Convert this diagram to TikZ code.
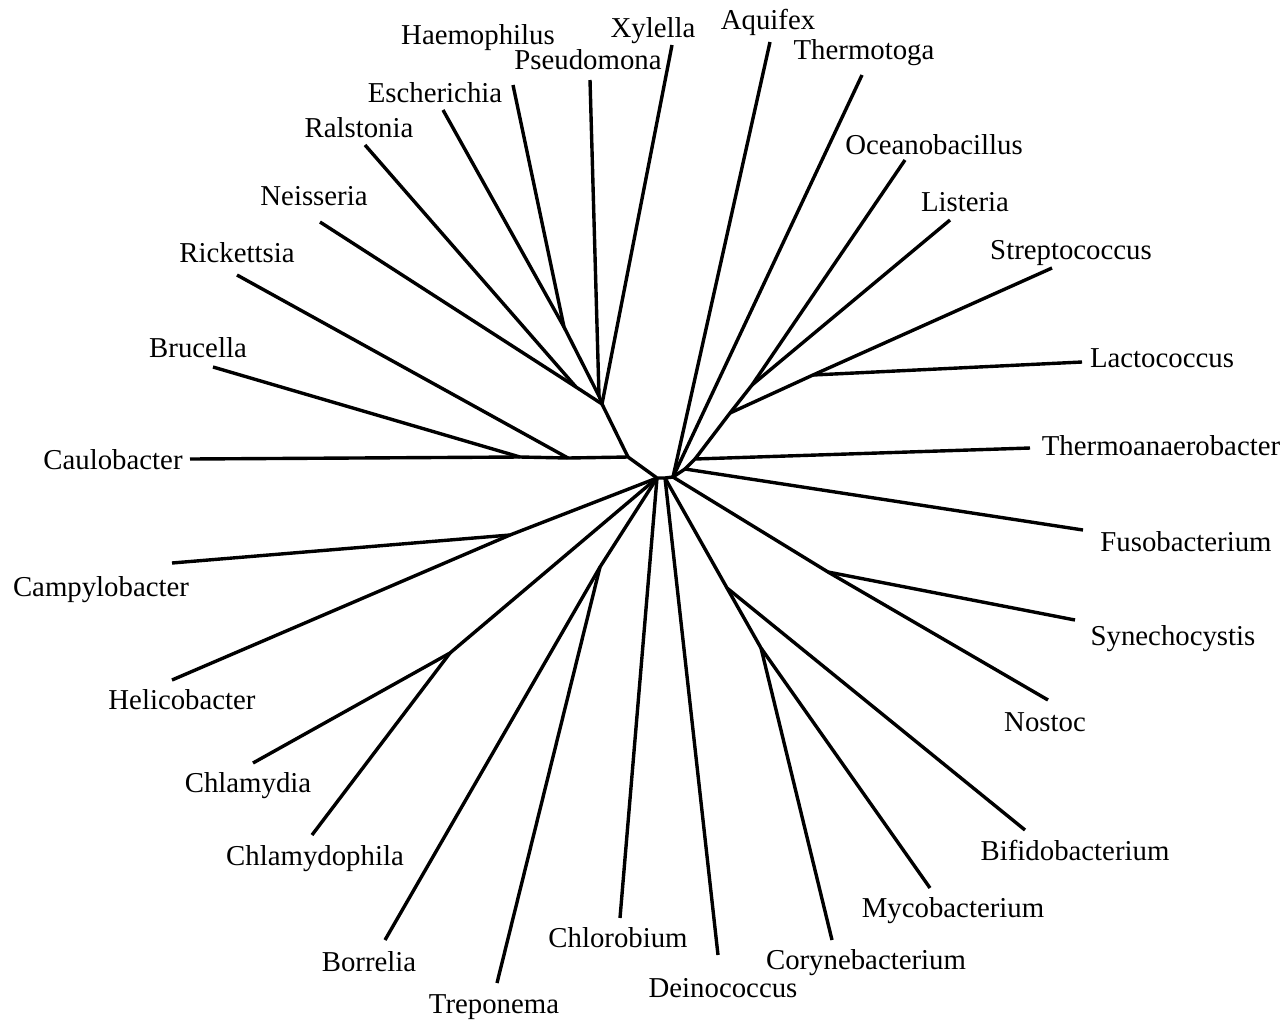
\documentclass[tikz,border=0pt]{standalone}
\usepackage{fontspec}
\setmainfont{Liberation Serif}
\begin{document}
\begin{tikzpicture}[x=1pt,y=-1pt,
  br/.style={line width=3.4pt, line join=round},
  lbl/.style={anchor=base, inner sep=0pt, font=\fontsize{28.8}{34}\selectfont}]
\useasboundingbox (0,0) rectangle (1284,1021);
% internal nodes
\coordinate (A) at (628,457);
\coordinate (B) at (657,478);
\coordinate (M) at (665,478);
\coordinate (C) at (673,477);
\coordinate (P) at (602,404);
\coordinate (Q) at (599,396);
\coordinate (HE) at (564,327);
\coordinate (RN) at (576,387);
\coordinate (R) at (568,458);
\coordinate (BC) at (520,457);
\coordinate (HC) at (510,535);
\coordinate (CC) at (450,653);
\coordinate (BT) at (600,567);
\coordinate (AC1) at (727,588);
\coordinate (AC2) at (761,648);
\coordinate (NS) at (828,572);
\coordinate (N1) at (685,469);
\coordinate (T) at (695,459);
\coordinate (F1) at (730,413);
\coordinate (F2) at (752,385);
\coordinate (S) at (813,375);
% leaf ends
\coordinate (lHae) at (513,85);
\coordinate (lEsc) at (443,110);
\coordinate (lRal) at (365,145);
\coordinate (lNei) at (320,222);
\coordinate (lRic) at (237,275);
\coordinate (lBru) at (213,367);
\coordinate (lCau) at (190,459);
\coordinate (lPse) at (590,80);
\coordinate (lXyl) at (672,45);
\coordinate (lAqu) at (770,42);
\coordinate (lThg) at (862,75);
\coordinate (lOce) at (905,160);
\coordinate (lLis) at (950,220);
\coordinate (lStr) at (1052,268);
\coordinate (lLac) at (1082,362);
\coordinate (lTha) at (1030,448);
\coordinate (lFus) at (1083,530);
\coordinate (lSyn) at (1075,620);
\coordinate (lNos) at (1048,700);
\coordinate (lBif) at (1025,830);
\coordinate (lMyc) at (930,888);
\coordinate (lCor) at (832,940);
\coordinate (lDei) at (718,955);
\coordinate (lChb) at (620,918);
\coordinate (lTre) at (497,983);
\coordinate (lBor) at (385,940);
\coordinate (lCpl) at (312,835);
\coordinate (lCmy) at (253,763);
\coordinate (lHel) at (172,680);
\coordinate (lCam) at (172,563);
% branches
\draw[br] (lCau) -- (BC) -- (R) -- (A) -- (B) -- (M) -- (C);
\draw[br] (BC) -- (lBru);
\draw[br] (R) -- (lRic);
\draw[br] (A) -- (P) -- (Q) -- (HE) -- (lHae);
\draw[br] (HE) -- (lEsc);
\draw[br] (Q) -- (lPse);
\draw[br] (P) -- (lXyl);
\draw[br] (P) -- (RN) -- (lRal);
\draw[br] (RN) -- (lNei);
\draw[br] (B) -- (HC) -- (lCam);
\draw[br] (HC) -- (lHel);
\draw[br] (B) -- (CC) -- (lCmy);
\draw[br] (CC) -- (lCpl);
\draw[br] (B) -- (BT) -- (lBor);
\draw[br] (BT) -- (lTre);
\draw[br] (B) -- (lChb);
\draw[br] (M) -- (lDei);
\draw[br] (M) -- (AC1) -- (lBif);
\draw[br] (AC1) -- (AC2) -- (lMyc);
\draw[br] (AC2) -- (lCor);
\draw[br] (C) -- (NS) -- (lNos);
\draw[br] (NS) -- (lSyn);
\draw[br] (C) -- (lAqu);
\draw[br] (C) -- (lThg);
\draw[br] (C) -- (N1) -- (lFus);
\draw[br] (N1) -- (T) -- (lTha);
\draw[br] (T) -- (F1) -- (F2) -- (lOce);
\draw[br] (F2) -- (lLis);
\draw[br] (F1) -- (S) -- (lStr);
\draw[br] (S) -- (lLac);
% labels
\node[lbl] (tHae) at (478,44) {Haemophilus};
\node[lbl] (tXyl) at (653,37) {Xylella};
\node[lbl] (tAqu) at (768,29) {Aquifex};
\node[lbl] (tThg) at (864,59) {Thermotoga};
\node[lbl] (tPse) at (588,69) {Pseudomona};
\node[lbl] (tEsc) at (435,102) {Escherichia};
\node[lbl] (tRal) at (359,137) {Ralstonia};
\node[lbl] (tNei) at (314,205) {Neisseria};
\node[lbl] (tRic) at (237,262) {Rickettsia};
\node[lbl] (tBru) at (198,357) {Brucella};
\node[lbl] (tCau) at (113,469) {Caulobacter};
\node[lbl] (tCam) at (101,596) {Campylobacter};
\node[lbl] (tHel) at (182,709) {Helicobacter};
\node[lbl] (tCmy) at (248,792) {Chlamydia};
\node[lbl] (tCpl) at (315,865) {Chlamydophila};
\node[lbl] (tBor) at (369,971) {Borrelia};
\node[lbl] (tTre) at (494,1013) {Treponema};
\node[lbl] (tChb) at (618,947) {Chlorobium};
\node[lbl] (tDei) at (723,997) {Deinococcus};
\node[lbl] (tCor) at (866,969) {Corynebacterium};
\node[lbl] (tMyc) at (953,917) {Mycobacterium};
\node[lbl] (tBif) at (1075,860) {Bifidobacterium};
\node[lbl] (tNos) at (1045,731) {Nostoc};
\node[lbl] (tSyn) at (1173,645) {Synechocystis};
\node[lbl] (tFus) at (1186,551) {Fusobacterium};
\node[lbl] (tTha) at (1161,455) {Thermoanaerobacter};
\node[lbl] (tLac) at (1162,367) {Lactococcus};
\node[lbl] (tStr) at (1071,259) {Streptococcus};
\node[lbl] (tLis) at (965,211) {Listeria};
\node[lbl] (tOce) at (934,154) {Oceanobacillus};
\end{tikzpicture}
\end{document}
